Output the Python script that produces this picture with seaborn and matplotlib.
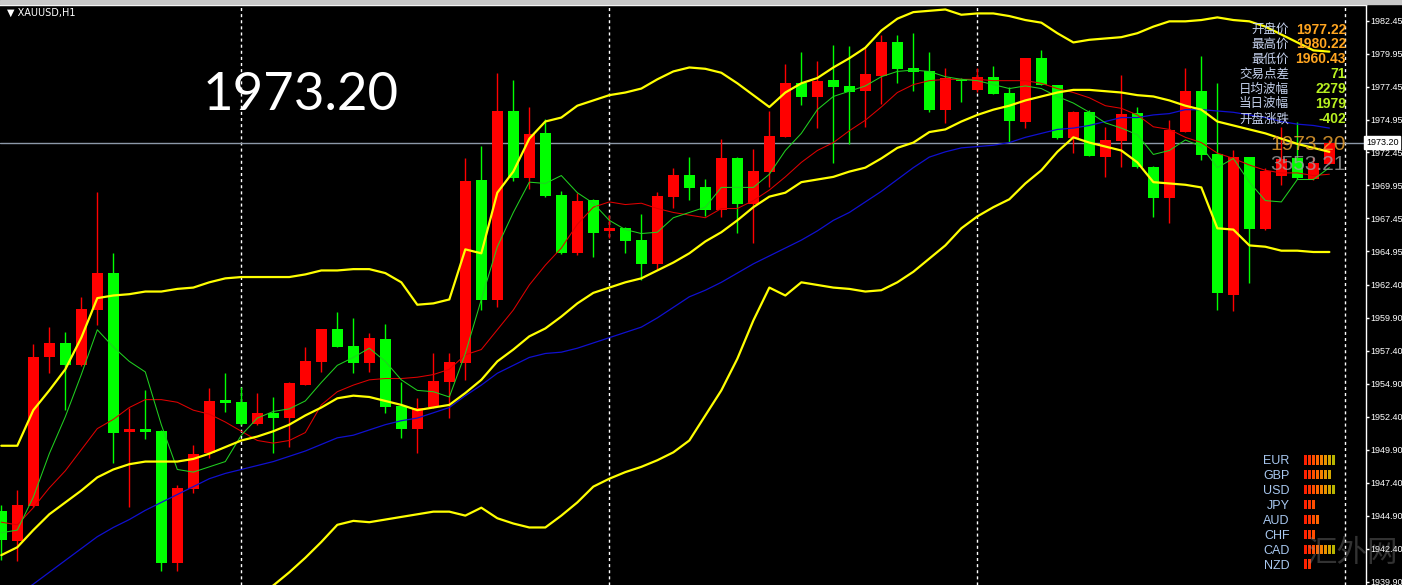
import numpy as np
import pandas as pd
import matplotlib
matplotlib.use("Agg")
import matplotlib.pyplot as plt
from matplotlib.patches import Rectangle
import seaborn as sns

W, H = 1402, 585

# XAUUSD H1 candles
open_ = [1945.27,1943.00,1945.65,1956.91,1958.02,1956.35,1960.50,1963.33,1951.27,1951.47,
         1951.34,1941.33,1946.90,1949.63,1953.67,1953.52,1951.83,1952.71,1952.28,1954.83,
         1956.58,1959.04,1957.77,1956.46,1958.28,1953.22,1951.45,1953.12,1955.06,1956.50,
         1970.36,1961.26,1975.62,1970.49,1973.95,1969.23,1964.85,1968.85,1966.52,1966.70,
         1965.81,1963.99,1969.10,1970.74,1969.81,1968.09,1972.06,1968.54,1970.99,1973.60,
         1977.70,1976.68,1977.95,1977.50,1977.14,1978.25,1980.86,1978.84,1978.63,1975.67,
         1978.03,1977.22,1978.16,1976.99,1974.79,1979.60,1977.57,1973.53,1975.55,1972.13,
         1973.35,1975.47,1971.37,1968.97,1974.03,1977.14,1972.34,1961.64,1972.09,1966.62,
         1970.67,1972.01,1970.42,1971.58]
high = [1945.70,1946.84,1957.92,1959.19,1958.85,1961.51,1969.45,1964.85,1953.04,1954.43,
        1951.40,1947.22,1950.26,1954.56,1955.74,1954.68,1954.23,1953.92,1955.04,1957.72,
        1959.06,1960.37,1959.87,1958.73,1959.41,1955.06,1953.80,1957.26,1957.21,1972.01,
        1972.94,1978.50,1977.95,1975.88,1974.97,1969.55,1969.35,1968.92,1967.71,1966.82,
        1967.78,1969.48,1971.25,1972.13,1970.42,1973.47,1972.13,1972.69,1975.62,1979.16,
        1980.10,1979.41,1980.61,1980.53,1980.36,1981.36,1981.36,1981.49,1980.05,1978.84,
        1978.10,1978.84,1979.01,1977.44,1979.62,1980.22,1977.60,1975.58,1975.67,1974.41,
        1978.33,1975.92,1971.40,1974.92,1978.84,1979.77,1977.75,1972.64,1972.12,1971.25,
        1974.38,1974.79,1972.13,1973.40]
low = [1941.53,1941.48,1945.55,1955.70,1952.91,1956.25,1959.36,1948.87,1945.58,1950.71,
       1940.72,1940.72,1946.59,1949.25,1952.78,1951.77,1951.77,1949.63,1950.08,1954.81,
       1955.82,1957.69,1955.70,1955.82,1952.71,1950.77,1949.63,1953.10,1952.28,1955.19,
       1960.50,1960.70,1970.31,1969.66,1969.05,1964.75,1964.67,1964.54,1965.94,1964.85,
       1962.78,1963.59,1968.22,1968.85,1967.63,1967.53,1966.36,1965.56,1969.85,1973.59,
       1976.05,1974.29,1971.68,1973.09,1974.36,1976.13,1977.75,1977.14,1975.55,1974.67,
       1976.30,1977.06,1976.85,1973.27,1974.29,1977.55,1973.50,1972.39,1972.15,1970.61,
       1971.37,1971.25,1967.53,1967.12,1974.01,1971.88,1960.50,1960.43,1962.57,1966.57,
       1969.98,1970.45,1970.36,1971.55]
close = [1943.05,1945.70,1956.96,1958.02,1956.35,1960.60,1963.28,1951.19,1951.45,1951.27,
         1941.28,1946.97,1949.57,1953.60,1953.47,1951.83,1952.71,1952.28,1954.98,1956.65,
         1959.04,1957.72,1956.46,1958.40,1953.16,1951.45,1953.04,1955.11,1956.55,1970.31,
         1961.26,1975.62,1970.49,1973.85,1969.15,1964.80,1968.79,1966.36,1966.70,1965.76,
         1963.97,1969.15,1970.74,1969.73,1968.09,1972.06,1968.54,1971.05,1973.70,1977.75,
         1976.68,1977.90,1977.44,1977.06,1978.41,1980.86,1978.76,1978.58,1975.67,1978.08,
         1977.91,1978.16,1976.89,1974.84,1979.60,1977.57,1973.53,1975.55,1972.18,1973.40,
         1975.37,1971.33,1968.97,1974.16,1977.14,1972.26,1961.81,1972.09,1966.62,1971.07,
         1971.96,1970.49,1971.68,1973.20]

# indicator lines
bb_up = [1950.2,1950.2,1952.9,1954.4,1956.0,1958.4,1961.4,1961.6,1961.7,1961.9,
         1961.9,1962.1,1962.2,1962.6,1962.9,1963.0,1963.0,1963.0,1963.0,1963.2,
         1963.5,1963.5,1963.6,1963.6,1963.3,1962.6,1960.9,1961.0,1961.3,1965.1,
         1964.8,1969.4,1971.0,1973.5,1974.8,1975.1,1976.0,1976.4,1976.8,1977.0,
         1977.3,1978.0,1978.6,1978.9,1978.8,1978.5,1977.7,1976.8,1975.9,1977.0,
         1977.7,1978.1,1978.9,1979.6,1980.4,1981.7,1982.6,1983.1,1983.2,1983.3,
         1982.9,1983.0,1983.0,1982.8,1982.5,1982.3,1981.5,1980.8,1981.0,1981.1,
         1981.2,1981.5,1982.0,1982.4,1982.4,1982.5,1982.7,1982.5,1982.4,1982.0,
         1981.4,1980.8,1980.2,1980.1]
bb_mid = [1941.9,1942.5,1943.8,1945.0,1945.9,1946.8,1947.8,1948.4,1948.8,1949.0,
          1949.0,1949.0,1949.2,1949.6,1950.1,1950.6,1950.9,1951.3,1951.8,1952.5,
          1953.1,1953.8,1954.0,1953.9,1953.6,1953.3,1952.9,1953.1,1953.3,1954.2,
          1955.2,1956.6,1957.5,1958.5,1959.1,1960.0,1961.0,1961.8,1962.2,1962.6,
          1962.9,1963.5,1964.1,1964.8,1965.7,1966.4,1967.3,1968.3,1969.1,1969.4,
          1970.2,1970.4,1970.6,1971.0,1971.3,1972.0,1972.8,1973.2,1974.0,1974.2,
          1974.8,1975.3,1975.7,1976.0,1976.4,1976.7,1977.0,1977.2,1977.2,1977.1,
          1977.0,1976.8,1976.7,1976.4,1976.0,1975.7,1974.8,1974.5,1974.2,1973.9,
          1973.5,1973.1,1972.8,1972.5]
bb_lo = [1933.6,1934.7,1934.7,1935.6,1935.8,1935.3,1934.2,1935.2,1935.9,1936.2,
         1936.1,1936.0,1936.1,1936.7,1937.3,1938.1,1938.9,1939.6,1940.6,1941.7,
         1942.9,1944.2,1944.5,1944.4,1944.6,1944.8,1945.0,1945.2,1945.2,1944.9,
         1945.5,1944.7,1944.3,1944.0,1944.0,1944.9,1945.9,1947.1,1947.7,1948.2,
         1948.6,1949.1,1949.7,1950.6,1952.5,1954.4,1956.8,1959.7,1962.2,1961.6,
         1962.6,1962.4,1962.2,1962.1,1961.9,1962.0,1962.6,1963.4,1964.4,1965.4,
         1966.7,1967.6,1968.3,1968.9,1970.1,1971.1,1972.5,1973.6,1973.2,1972.9,
         1972.6,1971.7,1970.2,1970.1,1970.0,1969.8,1966.7,1966.6,1965.4,1965.3,
         1965.0,1965.0,1964.9,1964.9]
ma_fast = [1943.6,1943.8,1946.3,1949.6,1952.4,1955.6,1959.0,1957.7,1956.6,1955.8,
           1951.8,1948.4,1948.2,1948.6,1949.0,1951.0,1952.3,1952.8,1953.0,1953.6,
           1955.0,1956.3,1956.9,1957.6,1956.6,1955.2,1954.4,1954.3,1953.9,1957.2,
           1961.3,1965.3,1967.9,1970.2,1970.1,1970.7,1969.4,1968.6,1967.3,1966.6,
           1966.3,1966.4,1967.5,1967.9,1968.3,1969.8,1969.8,1969.8,1970.8,1972.6,
           1973.9,1975.7,1976.7,1977.1,1977.5,1978.2,1978.6,1978.7,1978.6,1978.2,
           1978.0,1977.9,1977.6,1977.3,1977.5,1977.3,1976.7,1976.2,1975.5,1974.7,
           1974.3,1973.8,1972.3,1972.6,1973.4,1972.9,1971.3,1972.0,1970.2,1968.8,
           1968.7,1970.4,1970.4,1971.3]
ma_mid = [1944.4,1944.2,1945.5,1947.0,1948.3,1949.9,1951.5,1952.2,1953.1,1953.7,
          1953.7,1953.5,1952.9,1952.6,1952.0,1951.3,1950.6,1950.4,1950.6,1951.2,
          1953.3,1954.3,1954.8,1955.2,1955.3,1955.3,1955.4,1955.6,1956.0,1957.1,
          1957.5,1959.0,1960.5,1962.4,1963.9,1965.2,1967.0,1968.3,1968.7,1968.5,
          1968.6,1968.2,1967.9,1967.7,1967.5,1968.2,1968.2,1968.8,1969.6,1970.6,
          1971.7,1972.6,1973.2,1974.1,1974.9,1975.9,1977.0,1977.6,1977.9,1978.0,
          1978.0,1978.0,1977.9,1977.9,1977.9,1977.7,1977.3,1977.0,1976.6,1976.0,
          1975.8,1975.3,1974.4,1974.2,1973.6,1973.2,1972.4,1972.0,1971.5,1971.1,
          1970.9,1970.9,1970.7,1970.8]
ma_slow = [1938.1,1938.9,1939.7,1940.6,1941.5,1942.4,1943.3,1944.0,1944.6,1945.3,
           1945.9,1946.5,1947.1,1947.7,1948.1,1948.4,1948.7,1949.0,1949.4,1949.8,
           1950.3,1950.8,1951.0,1951.4,1951.8,1952.1,1952.3,1952.7,1953.1,1954.0,
           1954.8,1955.7,1956.3,1956.9,1957.2,1957.3,1957.6,1958.0,1958.4,1958.8,
           1959.2,1959.9,1960.7,1961.5,1962.0,1962.6,1963.3,1964.0,1964.6,1965.2,
           1965.8,1966.5,1967.3,1967.9,1968.7,1969.5,1970.4,1971.3,1972.1,1972.5,
           1972.8,1972.9,1973.0,1973.2,1973.6,1973.9,1974.2,1974.3,1974.5,1974.8,
           1975.1,1975.1,1975.3,1975.4,1975.7,1975.7,1975.6,1975.5,1975.3,1975.1,
           1974.8,1974.6,1974.5,1974.3]

day_starts = [15, 38, 61, 84]
last_price = 1973.20
tick_labels = ["1982.45", "1979.95", "1977.45", "1974.95", "1972.45", "1969.95", "1967.45", "1964.95",
               "1962.40", "1959.90", "1957.40", "1954.90", "1952.40", "1949.90", "1947.40", "1944.90",
               "1942.40", "1939.90"]
info_labels = ["开盘价", "最高价", "最低价", "交易点差", "日均波幅", "当日波幅", "开盘涨跌"]
info_values = ["1977.22", "1980.22", "1960.43", "71", "2279", "1979", "-402"]
currencies = ["EUR", "GBP", "USD", "JPY", "AUD", "CHF", "CAD", "NZD"]
strength = [8, 7, 8, 3, 4, 3, 8, 2]

sns.set_theme(style="dark", rc={"axes.facecolor": "black", "figure.facecolor": "black"})
plt.rcParams['font.family'] = ['Liberation Sans', 'DejaVu Sans']

fig = plt.figure(figsize=(W / 100, H / 100), dpi=100, facecolor="black")
ax = fig.add_axes([0, 0, 1366 / W, 580 / H])
ax.set_facecolor("black")

bars = np.arange(len(close))
o = np.array(open_); c = np.array(close)
df = pd.DataFrame({"bar": bars, "bb_up": bb_up, "bb_mid": bb_mid, "bb_lo": bb_lo,
                   "ma_fast": ma_fast, "ma_mid": ma_mid, "ma_slow": ma_slow})

# candles: red = up, green = down
cc = np.where(c >= o, "#FF0000", "#00FF00")
ax.vlines(bars, low, high, colors=cc, lw=1, zorder=2)
ax.bar(bars, np.abs(c - o), bottom=np.minimum(o, c), width=0.7, color=cc, lw=0, zorder=2)

for key, col, lw in [("ma_slow", "#1010D0", 0.9), ("ma_mid", "#E00000", 0.75), ("ma_fast", "#20D020", 0.75),
                     ("bb_up", "#FFFF00", 1.6), ("bb_mid", "#FFFF00", 1.6), ("bb_lo", "#FFFF00", 1.6)]:
    sns.lineplot(data=df, x="bar", y=key, color=col, lw=lw, ax=ax, legend=False, zorder=3)

for d in day_starts:
    ax.axvline(d, color="white", lw=1, ls=(0, (2.2, 2.2)), zorder=1)
ax.axhline(last_price, color="#8C98A8", lw=1, zorder=1)

ax.set_xlim(-0.081, 85.29)
ax.set_ylim(1939.635, 1983.64)
ax.set_xticks([])
ax.set_yticks([float(t) for t in tick_labels], labels=tick_labels)
ax.yaxis.tick_right()
ax.tick_params(axis="y", colors="white", length=2.5, width=1, pad=0.8, labelsize=6.5)
ax.set_xlabel(""); ax.set_ylabel("")
for s in ["left", "bottom"]:
    ax.spines[s].set_visible(False)
for s in ["right", "top"]:
    ax.spines[s].set_color("white"); ax.spines[s].set_linewidth(1)
ax.grid(False)
ax.text(1.0, last_price, "1973.20", transform=ax.get_yaxis_transform(), ha="left", va="center",
        fontsize=6.5, color="black",
        bbox=dict(boxstyle="square,pad=0.2", fc="white", ec="white"), zorder=5)


def fx(x):
    return x / W


def fy(y):
    return 1 - y / H


fig.patches.append(Rectangle((0, fy(4)), 1, 4 / H, transform=fig.transFigure, color="#C8C8C8"))
fig.text(fx(7), fy(12.5), "▼ XAUUSD,H1", fontsize=7, color="white", va="center", family=["DejaVu Sans"])
fig.text(fx(203), fy(96), "1973.20", fontsize=38, color="white", va="center", family=["Lato"])

rows = [30, 44.5, 59, 74, 89, 104, 119]
for i, (lab, val) in enumerate(zip(info_labels, info_values)):
    fig.text(fx(1289), fy(rows[i]), lab, ha="right", va="center", fontsize=9, color="#C4D0EC",
             family=["Noto Sans CJK SC", "DejaVu Sans"])
    fig.text(fx(1346), fy(rows[i]), val, ha="right", va="center", fontsize=10, fontweight="bold",
             color="#FFA520" if i < 3 else "#B8F020")
fig.text(fx(1346), fy(145), "1973.20", ha="right", va="center", fontsize=15, color="#E8A030", alpha=0.85)
fig.text(fx(1346), fy(165), "3553.21", ha="right", va="center", fontsize=15, color="#A0A0A0", alpha=0.8)

# currency strength panel
seg_colors = ["#FF2000", "#FF3300", "#FF4D00", "#FF6600", "#F57F00", "#E89400", "#D4A800", "#B8B400"]
cax = fig.add_axes([fx(1303), fy(571.5), 40 / W, 119 / H])
cax.patch.set_alpha(0)
for r, n in enumerate(strength):
    cax.bar(range(n), 0.62, bottom=r - 0.31, width=0.75, color=seg_colors[:n], lw=0)
cax.set_xlim(-0.5, 9.5); cax.set_ylim(7.5, -0.5)
cax.set_xticks([]); cax.set_yticks(range(8), labels=currencies)
cax.tick_params(axis="y", length=0, labelcolor="#A8C8F0", pad=9.5, labelsize=9)
for s in cax.spines.values():
    s.set_visible(False)
fig.text(fx(1398), fy(553), "汇外网", ha="right", va="center", fontsize=22, color="#909090", alpha=0.35,
         family=["Noto Sans CJK SC"])

fig.savefig("out.png", dpi=100, facecolor="black")
